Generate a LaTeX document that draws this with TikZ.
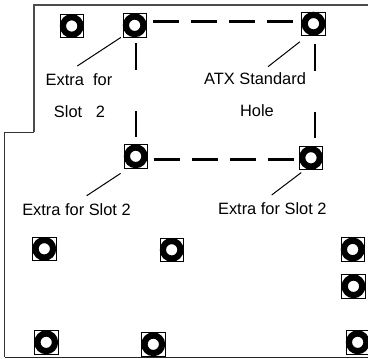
\documentclass[tikz,border=0pt]{standalone}
\usepackage{fontspec}
\setmainfont{Liberation Sans}
\tikzset{
  hole/.style={draw, line width=0.7pt, rectangle, inner sep=0pt, minimum size=23.5pt,
    path picture={\draw[line width=6.2pt] (path picture bounding box.center) circle (8.8);}},
  label/.style={anchor=base, inner sep=0pt, font=\fontsize{16.4}{18}\selectfont},
  leader/.style={line width=1pt},
  dashrun/.style={line width=2.7pt, dash pattern=on 26pt off 12pt},
  sidedash/.style={line width=2.7pt, dash pattern=on 26.5pt off 41.5pt}
}
\begin{document}
\begin{tikzpicture}[x=1pt, y=-1pt]
  \useasboundingbox (0,0) rectangle (368,359);
  % board outline
  \draw[line width=1.8pt, black!70] (368,5) -- (34,5) -- (34,132);
  \draw[line width=1pt, black!80] (34,132) -- (5,132) -- (5,357);
  \draw[line width=1.2pt, black!85] (5,357.5) -- (368,357.5);
  % mounting holes
  \node[hole] (h1) at (71.7,26) {};
  \node[hole] (h2) at (134.7,25.3) {};
  \node[hole] (h3) at (135.7,156.3) {};
  \node[hole] (h4) at (313.5,23.7) {};
  \node[hole] (h5) at (311,157.8) {};
  \node[hole] (h6) at (44.3,248.8) {};
  \node[hole] (h7) at (171.7,249.8) {};
  \node[hole] (h8) at (352.7,249.5) {};
  \node[hole] (h9) at (353.5,286.3) {};
  \node[hole] (h10) at (46.2,342.3) {};
  \node[hole] (h11) at (153.3,344.3) {};
  \node[hole] (h12) at (357.7,342.3) {};
  % dashed rectangle between the standard holes
  \draw[dashrun] ([shift={(6.3,-3.6)}]h2.east) -- ([shift={(-7.5,-2)}]h4.west);
  \draw[dashrun] ([shift={(6,3.4)}]h3.east) -- ([shift={(-5,1.9)}]h5.west);
  \draw[sidedash] ([shift={(1.3,6)}]h2.south) -- ([shift={(0.3,-7.3)}]h3.north);
  \draw[sidedash] ([shift={(1.5,8.3)}]h4.south) -- ([shift={(4,-7.7)}]h5.north);
  % labels
  \node[label] (extra1) at (79,85) {Extra\ \ for};
  \node[label] (slot1) at (79.5,117) {Slot\ \ \ 2};
  \node[label] (atx) at (255,84.5) {ATX Standard};
  \node[label] (hole1) at (257,116.5) {Hole};
  \node[label] (extra2) at (76.5,215) {Extra for Slot 2};
  \node[label] (extra3) at (272.3,214) {Extra for Slot 2};
  % leaders
  \coordinate (e1) at (77.3,66);
  \coordinate (e2) at (86.7,195.7);
  \coordinate (e3) at (268,66.7);
  \coordinate (e4) at (271.7,195);
  \draw[leader] ([shift={(-1.7,0)}]h2.south west) -- (e1);
  \draw[leader] ([shift={(-3,5)}]h3.south west) -- (e2);
  \draw[leader] ([shift={(-1.6,6)}]h4.south west) -- (e3);
  \draw[leader] ([shift={(2.3,2.7)}]h5.south west) -- (e4);
\end{tikzpicture}
\end{document}
